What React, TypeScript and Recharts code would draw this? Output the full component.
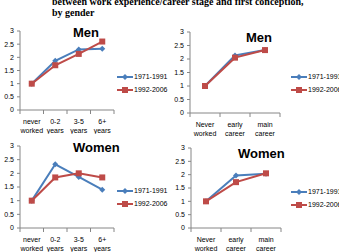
import React from "react";
import { Line, LineChart, XAxis, YAxis } from "recharts";

const blue = "#4A7EBB";
const red = "#BE4B48";
const axisColor = "#868686";
const font = "'Liberation Sans', Arial, sans-serif";

const workCategories = ["never worked", "0-2 years", "3-5 years", "6+ years"];
const careerCategories = ["Never worked", "early career", "main career"];
const yTicks = [0, 0.5, 1, 1.5, 2, 2.5, 3];
const seriesNames = ["1971-1991", "1992-2006"];

const menWorkOld = [1, 1.87, 2.3, 2.33];
const menWorkNew = [1, 1.7, 2.13, 2.6];
const menCareerOld = [1, 2.13, 2.33];
const menCareerNew = [1, 2.05, 2.33];
const womenWorkOld = [1, 2.33, 1.87, 1.4];
const womenWorkNew = [1, 1.85, 2.0, 1.85];
const womenCareerOld = [1, 1.97, 2.03];
const womenCareerNew = [1, 1.72, 2.05];

const rows = (cats: string[], a: number[], b: number[]) =>
  cats.map((c, i) => ({ cat: c, old: a[i], recent: b[i] }));

const Diamond = ({ cx, cy }: any) =>
  cx == null ? null : <path d={`M${cx},${cy - 3}L${cx + 3},${cy}L${cx},${cy + 3}L${cx - 3},${cy}Z`} fill={blue} />;
const Square = ({ cx, cy }: any) =>
  cx == null ? null : <rect x={cx - 3} y={cy - 3} width={6} height={6} fill={red} />;

const makeTick = (count: number) => (props: any) => {
  const { x, y, payload, index } = props;
  const off = payload.offset ?? 0;
  const lines = String(payload.value).split(" ");
  return (
    <g>
      <line x1={x - off} x2={x - off} y1={y - 6} y2={y - 2} stroke={axisColor} />
      {index === count - 1 && <line x1={x + off} x2={x + off} y1={y - 6} y2={y - 2} stroke={axisColor} />}
      <text x={x} y={y} textAnchor="middle" fontSize={7} fontFamily={font} fill="#000">
        {lines.map((l, i) => (
          <tspan key={i} x={x} dy={i === 0 ? 7.5 : 9}>{l}</tspan>
        ))}
      </text>
    </g>
  );
};

function Legend({ left, top }: { left: number; top: number }) {
  return (
    <div style={{ position: "absolute", left, top, fontFamily: font, fontSize: 7, whiteSpace: "nowrap" }}>
      {seriesNames.map((n, i) => (
        <div key={n} style={{ display: "flex", alignItems: "center", height: 13 }}>
          <svg width={16} height={8} style={{ marginRight: 1 }}>
            <line x1={0} x2={16} y1={4} y2={4} stroke={i === 0 ? blue : red} strokeWidth={2} />
            {i === 0 ? (
              <path d="M8,1L11,4L8,7L5,4Z" fill={blue} />
            ) : (
              <rect x={5} y={1} width={6} height={6} fill={red} />
            )}
          </svg>
          <span>{n}</span>
        </div>
      ))}
    </div>
  );
}

type PanelProps = {
  left: number;
  top: number;
  width: number;
  height: number;
  margin: { top: number; right: number; left: number; bottom: number };
  cats: string[];
  a: number[];
  b: number[];
  title: string;
  titleX: number;
  titleY: number;
  legendX: number;
  legendY: number;
};

function Panel(p: PanelProps) {
  const data = rows(p.cats, p.a, p.b);
  return (
    <>
      <div style={{ position: "absolute", left: p.left, top: p.top }}>
        <LineChart width={p.width} height={p.height} data={data} margin={p.margin}>
          <XAxis
            dataKey="cat"
            scale="band"
            interval={0}
            height={24}
            tickSize={4}
            tickMargin={2}
            tickLine={false}
            stroke={axisColor}
            tick={makeTick(p.cats.length)}
          />
          <YAxis
            type="number"
            domain={[0, 3]}
            ticks={yTicks}
            interval={0}
            width={20}
            tickSize={3}
            tickMargin={3}
            stroke={axisColor}
            tick={{ fontSize: 7, fill: "#000", fontFamily: font }}
          />
          <Line dataKey="old" stroke={blue} strokeWidth={2} dot={<Diamond />} isAnimationActive={false} />
          <Line dataKey="recent" stroke={red} strokeWidth={2} dot={<Square />} isAnimationActive={false} />
        </LineChart>
      </div>
      <div
        style={{
          position: "absolute",
          left: p.titleX,
          top: p.titleY,
          fontFamily: font,
          fontWeight: "bold",
          fontSize: 13,
          lineHeight: "14px",
        }}
      >
        {p.title}
      </div>
      <Legend left={p.legendX} top={p.legendY} />
    </>
  );
}

export default function App() {
  return (
    <div style={{ position: "absolute", left: 0, top: 0, width: 339, height: 252, background: "#fff", overflow: "hidden" }}>
      <div
        style={{
          position: "absolute",
          left: 52,
          top: -4.5,
          fontFamily: "'Liberation Serif', 'Times New Roman', serif",
          fontWeight: "bold",
          fontSize: 10,
          lineHeight: "11px",
          whiteSpace: "nowrap",
        }}
      >
        <div>between work experience/career stage and first conception,</div>
        <div>by gender</div>
      </div>
      <Panel
        left={0} top={25} width={170} height={109}
        margin={{ top: 6, right: 56, left: 0, bottom: 0 }}
        cats={workCategories} a={menWorkOld} b={menWorkNew}
        title="Men" titleX={73} titleY={26} legendX={117} legendY={70}
      />
      <Panel
        left={170} top={25} width={169} height={112}
        margin={{ top: 7, right: 59, left: 0, bottom: 0 }}
        cats={careerCategories} a={menCareerOld} b={menCareerNew}
        title="Men" titleX={246} titleY={31} legendX={291} legendY={70}
      />
      <Panel
        left={0} top={140} width={170} height={112}
        margin={{ top: 6, right: 56, left: 0, bottom: 0 }}
        cats={workCategories} a={womenWorkOld} b={womenWorkNew}
        title="Women" titleX={73} titleY={141} legendX={117} legendY={184}
      />
      <Panel
        left={171} top={140} width={168} height={112}
        margin={{ top: 8, right: 58, left: 0, bottom: 0 }}
        cats={careerCategories} a={womenCareerOld} b={womenCareerNew}
        title="Women" titleX={238} titleY={147} legendX={291} legendY={185}
      />
    </div>
  );
}
